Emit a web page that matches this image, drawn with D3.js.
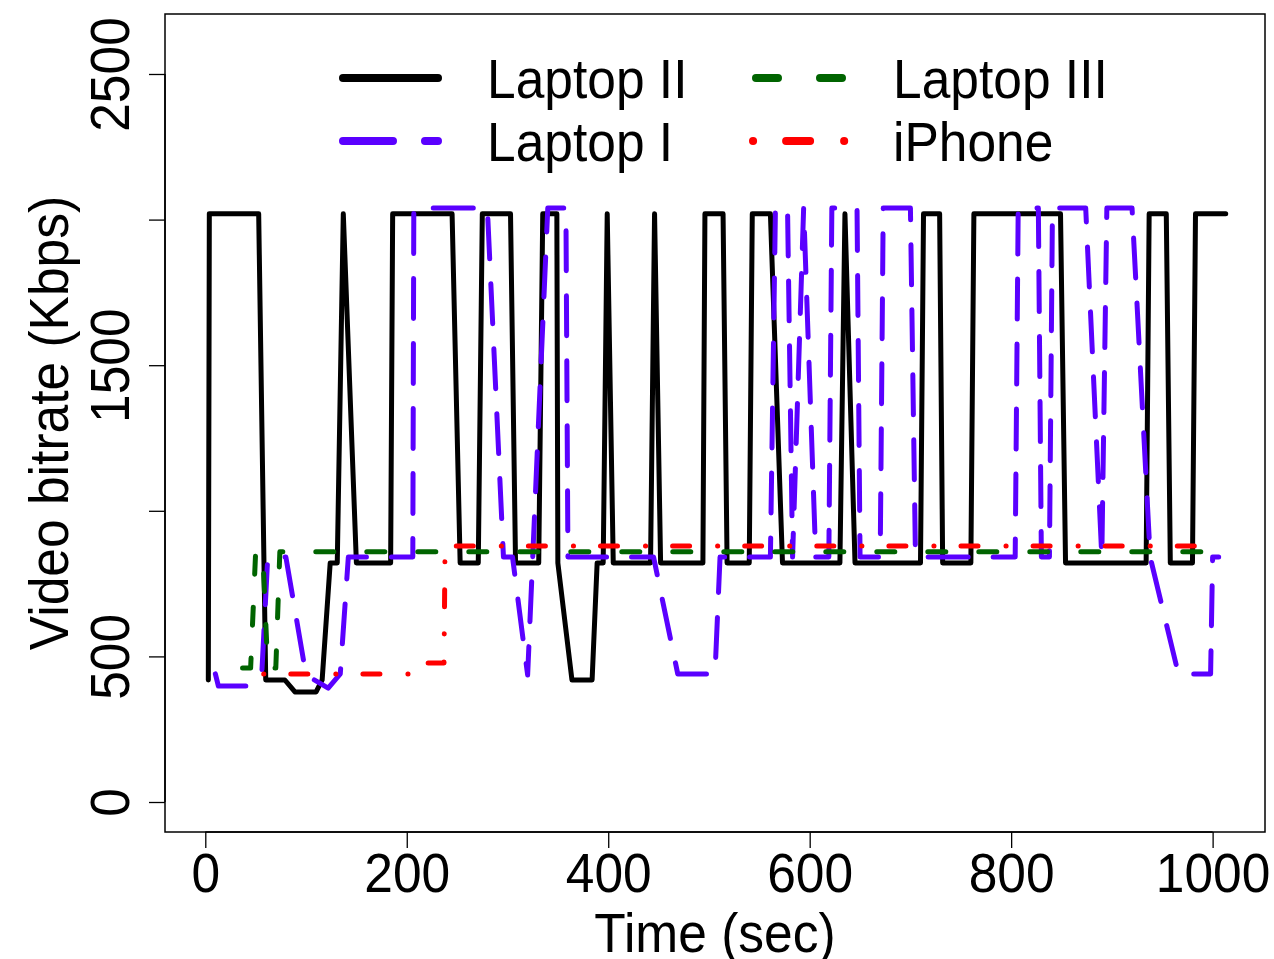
<!DOCTYPE html>
<meta charset="utf-8">
<style>
body { margin: 0; background: #fff; }
text { font-family: "Liberation Sans", Arial, sans-serif; fill: #000; }
.series { fill: none; stroke-width: 5; stroke-linecap: round; stroke-linejoin: round; }
.box { fill: none; stroke: #000; stroke-width: 1.5; }
</style>
<body></body>
<script src="https://d3js.org/d3.v7.min.js"></script>
<script>

// [time (sec), bitrate (Kbps)]
var laptop2 = [[3,419],[4,2020],[53,2020],[60,419],[79,419],[89,378],[110,378],[116,419],
  [124,821],[131,821],[137,2020],[150,821],[184,821],[186,2020],[245,2020],[253,821],
  [271,821],[275,2020],[303,2020],[308,821],[331,821],[335,2020],[349,2020],[350,821],
  [364,419],[384,419],[389,821],[395,821],[399,2020],[405,821],[442,821],[446,2020],
  [452,821],[494,821],[496,2020],[514,2020],[518,821],[540,821],[543,2020],[561,2020],
  [573,821],[630,821],[635,2020],[645,821],[710,821],[713,2020],[729,2020],[732,821],
  [760,821],[763,2020],[849,2020],[854,821],[934,821],[937,2020],[954,2020],[958,821],
  [980,821],[983,2020],[1013,2020]];

var laptop1 = [[10,440],[13,398],[41,398],[56,436],[62,841],[80,841],[100,436],[122,391],
  [134,440],[142,841],[206,841],[207,2040],[280,2040],[296,841],[305,841],[320,436],
  [340,2040],[358,2040],[360,841],[445,841],[469,440],[506,440],[511,841],[561,841],
  [566,2040],[578,2040],[583,841],[594,2040],[606,841],[619,841],[622,2040],[647,2040],
  [650,841],[670,841],[673,2040],[700,2040],[705,841],[804,841],[807,2040],[827,2040],
  [830,841],[838,841],[841,2040],[874,2040],[890,841],[895,2040],[920,2040],[938,841],
  [966,440],[998,440],[1000,841],[1006,841]];

var laptop3 = [[37,460],[45,460],[50,859],[57,859],[62,460],[70,460],[74,859],[1010,859]];

var iphone = [[58,440],[213,440],[218,477],[237,477],[238,879],[1000,879]];

var xTicks = [0, 200, 400, 600, 800, 1000];
var yTicks = [0, 500, 1000, 1500, 2000, 2500];
var yLabelled = [0, 500, 1500, 2500];

var legendNames = ["Laptop II", "Laptop I", "Laptop III", "iPhone"];

var width = 1274, height = 959;
var plot = {left: 165, right: 1265, top: 14, bottom: 832};

var svg = d3.select("body").append("svg")
    .attr("width", width)
    .attr("height", height);

var x = d3.scaleLinear().domain([-40, 1052]).range([plot.left, plot.right]);
var y = d3.scaleLinear().domain([-103, 2706]).range([plot.bottom, plot.top]);

var line = d3.line()
    .x(function(d) { return x(d[0]); })
    .y(function(d) { return y(d[1]); });

// series: colour and dash pattern per device
var series = [
  {data: laptop2, color: "#000000", dash: null},
  {data: laptop1, color: "#5a00ff", dash: "40 25"},
  {data: laptop3, color: "#006400", dash: "18 33"},
  {data: iphone,  color: "#ff0000", dash: "0.1 27 17 28"}
];

series.forEach(function(s) {
  svg.append("path")
      .datum(s.data)
      .attr("class", "series")
      .attr("stroke", s.color)
      .attr("stroke-dasharray", s.dash)
      .attr("d", line);
});

// box
svg.append("rect")
    .attr("class", "box")
    .attr("x", plot.left).attr("y", plot.top)
    .attr("width", plot.right - plot.left)
    .attr("height", plot.bottom - plot.top);

var FS = 56, SX = 0.92;

// x axis
var xAxis = svg.append("g")
    .attr("transform", "translate(0," + plot.bottom + ")")
    .call(d3.axisBottom(x).tickValues(xTicks).tickSize(16).tickSizeOuter(0)
      .tickFormat(d3.format("d")));
xAxis.select(".domain").remove();
xAxis.selectAll("line").attr("stroke-width", 1.3);
xAxis.selectAll("text")
    .attr("y", 60).attr("dy", null)
    .attr("fill", "#000")
    .style("font-size", FS + "px")
    .style("font-family", "'Liberation Sans', Arial, sans-serif")
    .attr("transform", "scale(" + SX + ",1)");
svg.append("line")
    .attr("x1", x(xTicks[0])).attr("x2", x(xTicks[xTicks.length - 1]))
    .attr("y1", plot.bottom).attr("y2", plot.bottom)
    .attr("stroke", "#000").attr("stroke-width", 1.5);

// y axis
var yAxis = svg.append("g")
    .attr("transform", "translate(" + plot.left + ",0)")
    .call(d3.axisLeft(y).tickValues(yTicks).tickSize(16).tickSizeOuter(0)
      .tickFormat(function(d) { return yLabelled.indexOf(d) >= 0 ? d : ""; }));
yAxis.select(".domain").remove();
yAxis.selectAll("line").attr("stroke-width", 1.3);
yAxis.selectAll("text")
    .attr("x", null).attr("dy", null)
    .attr("fill", "#000")
    .attr("text-anchor", "middle")
    .style("font-size", FS + "px")
    .style("font-family", "'Liberation Sans', Arial, sans-serif")
    .attr("transform", "translate(-36,0) rotate(-90) scale(" + SX + ",1)");
svg.append("line")
    .attr("x1", plot.left).attr("x2", plot.left)
    .attr("y1", y(yTicks[0])).attr("y2", y(yTicks[yTicks.length - 1]))
    .attr("stroke", "#000").attr("stroke-width", 1.5);

// axis titles
svg.append("g")
    .attr("transform", "translate(" + ((plot.left + plot.right) / 2) + ",952)")
  .append("text")
    .attr("text-anchor", "middle")
    .attr("transform", "scale(" + SX + ",1)")
    .style("font-size", FS + "px")
    .text("Time (sec)");

svg.append("g")
    .attr("transform", "translate(68," + ((plot.top + plot.bottom) / 2) + ") rotate(-90)")
  .append("text")
    .attr("text-anchor", "middle")
    .attr("transform", "scale(" + SX + ",1)")
    .style("font-size", FS + "px")
    .text("Video bitrate (Kbps)");

// legend (two columns)
var legendItems = [
  {name: legendNames[0], color: "#000000", dash: null,          x: 343, y: 78},
  {name: legendNames[1], color: "#5a00ff", dash: "50 32",       x: 343, y: 141},
  {name: legendNames[2], color: "#006400", dash: "22 42",       x: 756, y: 78},
  {name: legendNames[3], color: "#ff0000", dash: "0.1 33 24 34", x: 753, y: 141}
];

var lg = svg.append("g");
legendItems.forEach(function(d) {
  lg.append("line")
      .attr("x1", d.x).attr("x2", d.x < 500 ? 438 : 845)
      .attr("y1", d.y).attr("y2", d.y)
      .attr("stroke", d.color)
      .attr("stroke-width", 8)
      .attr("stroke-linecap", "round")
      .attr("stroke-dasharray", d.dash);
  lg.append("g")
      .attr("transform", "translate(" + (d.x < 500 ? 487 : 893) + "," + (d.y + 20) + ")")
    .append("text")
      .attr("transform", "scale(" + SX + ",1)")
      .style("font-size", FS + "px")
      .text(d.name);
});

</script>
